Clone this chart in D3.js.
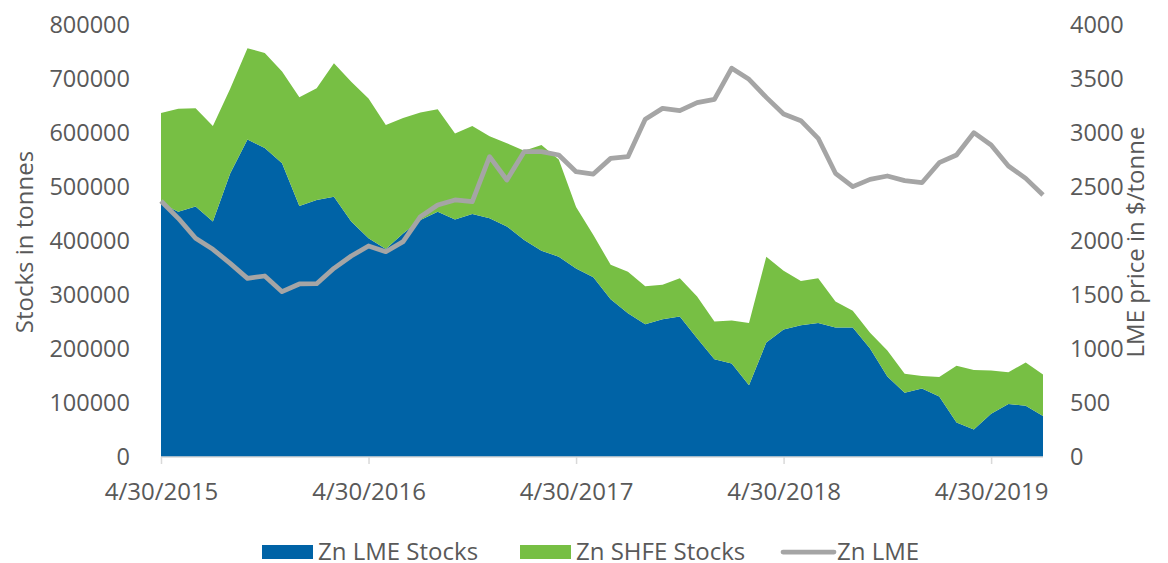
<!DOCTYPE html>
<html>
<head>
<meta charset="utf-8">
<script src="https://cdn.jsdelivr.net/npm/d3@7"></script>
<style>
  body { margin: 0; background: #fff; }
  svg text { font-family: "Open Sans", "Liberation Sans", sans-serif; fill: #595959; }
</style>
</head>
<body>
<svg id="chart"></svg>
<script>
// month-end dates (category axis)
let dates = [
  "4/30/2015", "5/31/2015", "6/30/2015", "7/31/2015", "8/31/2015", "9/30/2015", "10/31/2015", "11/30/2015", "12/31/2015",
  "1/31/2016", "2/29/2016", "3/31/2016", "4/30/2016", "5/31/2016", "6/30/2016", "7/31/2016", "8/31/2016", "9/30/2016",
  "10/31/2016", "11/30/2016", "12/31/2016", "1/31/2017", "2/28/2017", "3/31/2017", "4/30/2017", "5/31/2017", "6/30/2017",
  "7/31/2017", "8/31/2017", "9/30/2017", "10/31/2017", "11/30/2017", "12/31/2017", "1/31/2018", "2/28/2018", "3/31/2018",
  "4/30/2018", "5/31/2018", "6/30/2018", "7/31/2018", "8/31/2018", "9/30/2018", "10/31/2018", "11/30/2018", "12/31/2018",
  "1/31/2019", "2/28/2019", "3/31/2019", "4/30/2019", "5/31/2019", "6/30/2019", "7/31/2019"
];

let tickLabels = ["4/30/2015", "4/30/2016", "4/30/2017", "4/30/2018", "4/30/2019"];

// Zn LME Stocks (tonnes)
let lmeStocks = [
  470000, 454000, 464000, 436000, 525000, 588000, 572000, 544000, 465000,
  476000, 482000, 436000, 405000, 385000, 414000, 439000, 454000, 440000,
  450000, 442000, 427000, 402000, 382000, 371000, 349000, 333000, 292000,
  266000, 246000, 255000, 260000, 220000, 181000, 173000, 133000, 212000,
  236000, 244000, 248000, 240000, 240000, 201000, 149000, 119000, 127000,
  112000, 64000, 51000, 80000, 98000, 95000, 76000
];

// Zn SHFE Stocks (tonnes), stacked on top of LME
let shfeStocks = [
  167000, 191000, 182000, 177000, 157000, 169000, 176000, 170000, 201000,
  207000, 247000, 259000, 259000, 230000, 214000, 199000, 190000, 159000,
  163000, 152000, 154000, 165000, 196000, 180000, 114000, 78000, 64000,
  77000, 70000, 64000, 71000, 77000, 70000, 80000, 115000, 159000,
  109000, 82000, 83000, 48000, 31000, 29000, 48000, 35000, 23000,
  36000, 105000, 110000, 80000, 59000, 80000, 77000
];

// Zn LME price ($/tonne)
let lmePrice = [
  2370, 2210, 2025, 1923, 1793, 1654, 1676, 1531, 1602,
  1605, 1747, 1861, 1954, 1901, 1994, 2225, 2333, 2380,
  2364, 2781, 2565, 2827, 2827, 2796, 2642, 2620, 2765,
  2781, 3127, 3228, 3207, 3281, 3312, 3600, 3497, 3330,
  3176, 3114, 2951, 2627, 2503, 2571, 2602, 2559, 2540,
  2725, 2796, 3003, 2889, 2694, 2580, 2426
];

let seriesNames = ["Zn LME Stocks", "Zn SHFE Stocks", "Zn LME"];
let colors = ["#0063a6", "#77bf44", "#a5a5a5"];

let width = 1168;
let height = 563;
let plotLeft = 161, plotRight = 1043, plotTop = 25, plotBottom = 457;

let svg = d3.select("#chart").attr("width", width).attr("height", height);

let xScale = d3.scalePoint().domain(dates).range([plotLeft, plotRight]);
let yLeft = d3.scaleLinear().domain([0, 800000]).range([plotBottom, plotTop]);
let yRight = d3.scaleLinear().domain([0, 4000]).range([plotBottom, plotTop]);

let rows = dates.map((d, i) => ({ date: d, lme: lmeStocks[i], shfe: shfeStocks[i] }));
let stacked = d3.stack().keys(["lme", "shfe"])(rows);

let area = d3.area()
  .x((d) => xScale(d.data.date))
  .y0((d) => yLeft(d[0]))
  .y1((d) => yLeft(d[1]));

svg.append("g")
  .selectAll("path")
  .data(stacked)
  .enter()
  .append("path")
  .attr("d", area)
  .attr("fill", (d, i) => colors[i]);

// price line on secondary axis
let line = d3.line()
  .x((d, i) => xScale(dates[i]))
  .y((d) => yRight(d));

svg.append("path")
  .datum(lmePrice)
  .attr("d", line)
  .attr("fill", "none")
  .attr("stroke", colors[2])
  .attr("stroke-width", 4.75)
  .attr("stroke-linejoin", "round");

// x axis
let xAxis = d3.axisBottom(xScale).tickValues(tickLabels).tickSize(7).tickPadding(19);
let gx = svg.append("g")
  .attr("transform", "translate(0, " + plotBottom + ")")
  .call(xAxis);
gx.select(".domain").attr("stroke", "#d9d9d9").attr("stroke-width", 1.5).attr("d", "M" + plotLeft + ",0H" + plotRight);
gx.selectAll(".tick line").attr("stroke", "#d9d9d9").attr("stroke-width", 1.5);
gx.selectAll("text").style("font-size", "24px").attr("fill", "#595959");

// left axis
let gl = svg.append("g")
  .attr("transform", "translate(130, 0)")
  .call(d3.axisLeft(yLeft).ticks(8).tickSize(0).tickPadding(0).tickFormat(d3.format("d")));
gl.select(".domain").remove();
gl.selectAll("text").style("font-size", "23.5px").attr("fill", "#595959");

// right axis
let gr = svg.append("g")
  .attr("transform", "translate(1070, 0)")
  .call(d3.axisRight(yRight).ticks(8).tickSize(0).tickPadding(0).tickFormat(d3.format("d")));
gr.select(".domain").remove();
gr.selectAll("text").style("font-size", "23.5px").attr("fill", "#595959");

// axis titles
svg.append("text")
  .attr("transform", "translate(33, 242) rotate(-90)")
  .attr("text-anchor", "middle")
  .style("font-size", "24px")
  .text("Stocks in tonnes");

svg.append("text")
  .attr("transform", "translate(1144, 242) rotate(-90)")
  .attr("text-anchor", "middle")
  .style("font-size", "24px")
  .text("LME price in $/tonne");

// legend
let legendX = [262, 520, 781];
let legend = svg.append("g");
seriesNames.forEach((name, i) => {
  let lx = legendX[i];
  if (i < 2) {
    legend.append("rect")
      .attr("x", lx).attr("y", 545).attr("width", 51).attr("height", 14)
      .attr("fill", colors[i]);
  } else {
    legend.append("line")
      .attr("x1", lx + 2).attr("x2", lx + 53).attr("y1", 552).attr("y2", 552)
      .attr("stroke", colors[i]).attr("stroke-width", 4.75).attr("stroke-linecap", "round");
  }
  legend.append("text")
    .attr("x", lx + 56).attr("y", 552).attr("dy", "0.35em")
    .style("font-size", "24px")
    .text(name);
});
</script>
</body>
</html>
